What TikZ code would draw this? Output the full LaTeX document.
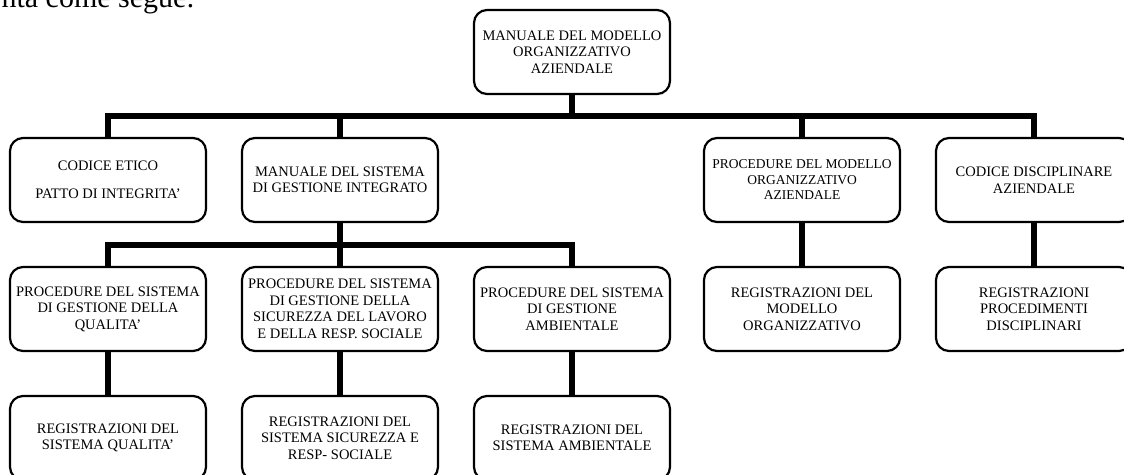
\documentclass[tikz,border=0pt]{standalone}
\usepackage{fontspec}
\setmainfont{Liberation Serif}

\begin{document}
\begin{tikzpicture}[x=1pt,y=-1pt,link/.style={line width=6pt},box node/.style={draw,rectangle,rounded corners=13pt,line width=2.2pt,fill=white,align=center,minimum width=196pt,minimum height=84pt,inner sep=0pt,font=\fontsize{14.5}{16.5}\selectfont}]

      \useasboundingbox (0,0) rectangle (1124,474);
      \node[anchor=base west,font=\fontsize{30}{34}\selectfont] at (-2,7) (0) {nta come segue:};

      \node[box node] at (572,52) (1) {MANUALE DEL MODELLO\\ ORGANIZZATIVO\\ AZIENDALE};
      \node[box node] at (108,180) (2) {CODICE ETICO\\[11pt] PATTO DI INTEGRITA'};
      \node[box node] at (340,180) (3) {MANUALE DEL SISTEMA\\ DI GESTIONE INTEGRATO};
      \node[box node,font=\fontsize{13.5}{15.5}\selectfont] at (802,180) (4) {PROCEDURE DEL MODELLO\\ ORGANIZZATIVO\\ AZIENDALE};
      \node[box node] at (1034,180) (5) {CODICE DISCIPLINARE\\ AZIENDALE};
      \node[box node] at (108,309) (6) {PROCEDURE DEL SISTEMA\\ DI GESTIONE DELLA\\ QUALITA'};
      \node[box node] at (340,309) (7) {PROCEDURE DEL SISTEMA\\ DI GESTIONE DELLA\\ SICUREZZA DEL LAVORO\\ E DELLA RESP. SOCIALE};
      \node[box node] at (572,309) (8) {PROCEDURE DEL SISTEMA\\ DI GESTIONE\\ AMBIENTALE};
      \node[box node] at (802,309) (9) {REGISTRAZIONI DEL\\ MODELLO\\ ORGANIZZATIVO};
      \node[box node] at (1034,309) (10) {REGISTRAZIONI\\ PROCEDIMENTI\\ DISCIPLINARI};
      \node[box node] at (108,438) (11) {REGISTRAZIONI DEL\\ SISTEMA QUALITA'};
      \node[box node] at (340,438) (12) {REGISTRAZIONI DEL\\ SISTEMA SICUREZZA E\\ RESP- SOCIALE};
      \node[box node] at (572,438) (13) {REGISTRAZIONI DEL\\ SISTEMA AMBIENTALE};

      \draw[link]
      (1.south) -- ++(0,21) -| (2.north)
      (1.south) -- ++(0,21) -| (3.north)
      (1.south) -- ++(0,21) -| (4.north)
      (1.south) -- ++(0,21) -| (5.north)
      (3.south) -- ++(0,22) -| (6.north)
      (3.south) -- ++(0,22) -| (7.north)
      (3.south) -- ++(0,22) -| (8.north)
      (4) -- (9)
      (5) -- (10)
      (6) -- (11)
      (7) -- (12)
      (8) -- (13)
      ;

    \end{tikzpicture}
\end{document}
